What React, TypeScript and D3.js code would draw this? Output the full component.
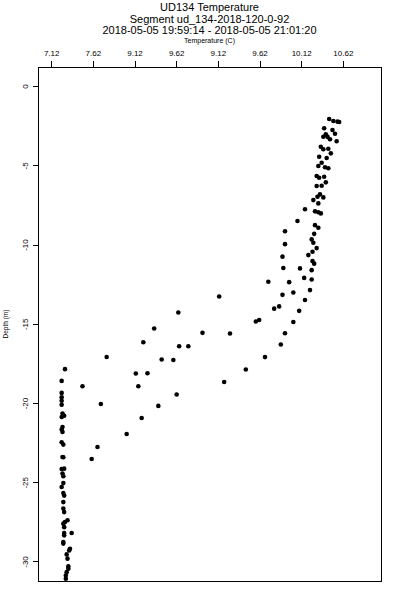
import React from "react";
import * as d3 from "d3";

const titleLines = [
  "UD134 Temperature",
  "Segment ud_134-2018-120-0-92",
  "2018-05-05 19:59:14 - 2018-05-05 21:01:20",
];
const xAxisTitle = "Temperature (C)";
const yAxisTitle = "Depth (m)";

const tempTicks = [7.12, 7.62, 8.12, 8.62, 9.12, 9.62, 10.12, 10.62];
const tempTickLabels = ["7.12", "7.62", "9.12", "9.62", "9.12", "9.62", "10.12", "10.62"];
const depthTicks = [0, -5, -10, -15, -20, -25, -30];

const temperature = [
  10.45, 10.5, 10.55, 10.57, 10.39, 10.49, 10.52, 10.41, 10.38, 10.43,
  10.46, 10.54, 10.35, 10.44, 10.38, 10.47, 10.33, 10.42, 10.36, 10.32,
  10.4, 10.44, 10.3, 10.39, 10.33, 10.41, 10.36, 10.3, 10.34, 10.31,
  10.38, 10.26, 10.32, 10.16, 10.28, 10.32, 10.35, 10.07, 10.28, 10.32,
  9.92, 10.27, 10.24, 10.26, 9.92, 10.3, 10.25, 10.2, 9.89, 10.25,
  10.27, 9.9, 10.1, 10.24, 10.15, 10.24, 9.72, 9.97, 10.22, 10.02,
  9.89, 9.13, 10.16, 9.85, 9.79, 10.09, 8.64, 9.61, 9.57, 10.02,
  8.35, 8.93, 9.92, 9.26, 8.22, 9.87, 8.65, 8.76, 7.78, 9.68,
  8.44, 8.58, 7.28, 9.45, 8.27, 8.13, 7.24, 9.19, 7.49, 8.16,
  7.24, 8.62, 7.24, 7.24, 7.71, 7.24, 8.4, 7.25, 7.27, 7.24,
  8.2, 7.25, 7.24, 7.25, 8.02, 7.24, 7.26, 7.67, 7.25, 7.26,
  7.6, 7.27, 7.24, 7.25, 7.26, 7.26, 7.24, 7.26, 7.27, 7.26,
  7.26, 7.27, 7.31, 7.28, 7.26, 7.27, 7.27, 7.36, 7.27, 7.26,
  7.26, 7.34, 7.33, 7.3, 7.31, 7.32, 7.32, 7.3, 7.29, 7.29,
];
const depth = [
  -2.04, -2.17, -2.21, -2.23, -2.63, -2.74, -2.97, -3.01, -3.16, -3.17,
  -3.32, -3.45, -3.79, -3.92, -3.95, -4.21, -4.42, -4.5, -4.8, -5.01,
  -5.09, -5.15, -5.64, -5.69, -5.75, -6.04, -6.25, -6.27, -6.8, -6.95,
  -6.99, -7.16, -7.37, -7.74, -7.87, -7.93, -8.0, -8.48, -8.74, -8.91,
  -9.13, -9.29, -9.64, -9.85, -9.94, -10.19, -10.42, -10.63, -10.73, -11.01,
  -11.17, -11.45, -11.47, -11.58, -12.07, -12.17, -12.31, -12.34, -12.84, -12.99,
  -13.14, -13.24, -13.47, -13.87, -14.01, -14.15, -14.25, -14.73, -14.82, -14.85,
  -15.26, -15.54, -15.56, -15.58, -16.13, -16.27, -16.38, -16.38, -17.06, -17.07,
  -17.22, -17.25, -17.83, -17.85, -18.09, -18.1, -18.57, -18.64, -18.91, -18.91,
  -19.33, -19.43, -19.6, -19.82, -20.03, -20.08, -20.15, -20.63, -20.77, -20.85,
  -20.91, -21.48, -21.64, -21.79, -21.92, -22.44, -22.59, -22.74, -23.37, -23.39,
  -23.5, -24.11, -24.13, -24.42, -24.59, -25.02, -25.27, -25.65, -25.81, -26.22,
  -26.63, -26.85, -27.37, -27.48, -27.58, -27.8, -28.17, -28.17, -28.32, -28.74,
  -28.84, -29.16, -29.27, -29.52, -29.79, -30.28, -30.42, -30.64, -30.85, -31.06,
];

const W = 400;
const H = 600;
const plot = { left: 38, right: 381, top: 67, bottom: 581 };
const FONT = "'Liberation Sans', Arial, Helvetica, sans-serif";

export default function App() {
  const x = d3.scaleLinear().domain([6.956, 11.072]).range([plot.left, plot.right]);
  const y = d3.scaleLinear().domain([1.24, -31.2]).range([plot.top, plot.bottom]);
  const pts = d3.zip(temperature, depth);
  const cx = (plot.left + plot.right) / 2;
  const cy = (plot.top + plot.bottom) / 2;
  return (
    <svg
      width={W}
      height={H}
      viewBox={`0 0 ${W} ${H}`}
      style={{ position: "absolute", left: 0, top: 0, background: "#fff" }}
      fontFamily={FONT}
    >
      <rect x={0} y={0} width={W} height={H} fill="#fff" />
      {titleLines.map((t, i) => (
        <text key={i} x={cx} y={11 + i * 11.6} textAnchor="middle" fontSize={11} fill="#000">
          {t}
        </text>
      ))}
      <text x={cx} y={43} textAnchor="middle" fontSize={7} fill="#000">
        {xAxisTitle}
      </text>
      <rect
        x={plot.left}
        y={plot.top}
        width={plot.right - plot.left}
        height={plot.bottom - plot.top}
        fill="none"
        stroke="#000"
        strokeWidth={1}
        shapeRendering="crispEdges"
      />
      {tempTicks.map((t, i) => (
        <g key={i}>
          <line
            x1={x(t)}
            x2={x(t)}
            y1={plot.top}
            y2={plot.top - 6}
            stroke="#000"
            shapeRendering="crispEdges"
          />
          <text x={x(t)} y={56} textAnchor="middle" fontSize={8} fill="#000">
            {tempTickLabels[i]}
          </text>
        </g>
      ))}
      {depthTicks.map((d) => (
        <g key={d}>
          <line
            x1={plot.left}
            x2={plot.left - 5}
            y1={y(d)}
            y2={y(d)}
            stroke="#000"
            shapeRendering="crispEdges"
          />
          <text
            transform={`translate(27.5,${y(d)}) rotate(-90)`}
            textAnchor="middle"
            fontSize={8}
            fill="#000"
          >
            {d}
          </text>
        </g>
      ))}
      <text
        transform={`translate(8,${cy}) rotate(-90)`}
        textAnchor="middle"
        fontSize={6.5}
        fill="#000"
      >
        {yAxisTitle}
      </text>
      {pts.map(([t, d], i) => (
        <circle key={i} cx={x(t)} cy={y(d)} r={2.3} fill="#000" />
      ))}
    </svg>
  );
}
